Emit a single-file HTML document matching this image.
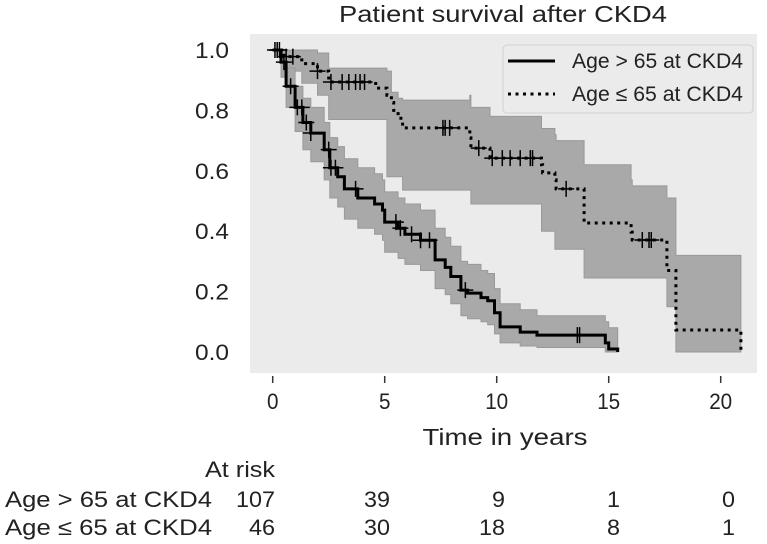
<!DOCTYPE html>
<html><head><meta charset="utf-8"><style>
html,body{margin:0;padding:0;background:#fff;}
svg{display:block;font-family:"Liberation Sans",Arial,sans-serif;}
</style></head><body>
<svg id="chart" width="767" height="544" viewBox="0 0 767 544" xmlns="http://www.w3.org/2000/svg">
<rect x="250" y="34" width="507" height="339" fill="#ebebeb"/>
<g id="bands"></g><g id="lines"></g><g id="marks"></g><g id="axes"></g>
<text x="503" y="22" font-size="23" text-anchor="middle" fill="#222" textLength="328" lengthAdjust="spacingAndGlyphs">Patient survival after CKD4</text>
<text x="505" y="445" font-size="23" text-anchor="middle" fill="#222" textLength="165" lengthAdjust="spacingAndGlyphs">Time in years</text>
<g>
<rect x="503" y="45" width="250" height="68" rx="4" fill="#ebebeb" stroke="#d0d0d0"/>
<line x1="508" y1="61" x2="555" y2="61" stroke="#000" stroke-width="3"/>
<line x1="508" y1="94" x2="555" y2="94" stroke="#000" stroke-width="3" stroke-dasharray="3 4.5"/>
<text x="572" y="68" font-size="21" fill="#222" textLength="171" lengthAdjust="spacingAndGlyphs">Age &gt; 65 at CKD4</text>
<text x="572" y="101" font-size="21" fill="#222" textLength="171" lengthAdjust="spacingAndGlyphs">Age ≤ 65 at CKD4</text>
</g>
<g id="risk">
<text x="275" y="477" font-size="22" text-anchor="end" fill="#222" textLength="70" lengthAdjust="spacingAndGlyphs">At risk</text>
<text x="5" y="507" font-size="22" fill="#222" textLength="207" lengthAdjust="spacingAndGlyphs">Age &gt; 65 at CKD4</text>
<text x="5" y="535" font-size="22" fill="#222" textLength="207" lengthAdjust="spacingAndGlyphs">Age ≤ 65 at CKD4</text>
</g>
</svg>
<script>
const xTicks=[0,5,10,15,20];
const yTicks=[0.0,0.2,0.4,0.6,0.8,1.0];
const oldTimes=[0,0.37,0.6,1.0,1.35,1.7,2.3,2.55,2.9,3.2,3.8,4.55,4.9,5.0,5.6,5.9,6.6,7.25,7.7,7.95,8.4,8.7,9.3,9.6,9.9,10.15,11.05,11.8,14.85,15.0,15.4];
const oldSurv=[1.0,0.96,0.88,0.81,0.76,0.725,0.67,0.61,0.58,0.54,0.51,0.49,0.47,0.43,0.41,0.39,0.37,0.305,0.28,0.25,0.205,0.195,0.18,0.17,0.13,0.083,0.066,0.056,0.03,0.01,0.0];
const oldUpper=[1.0,1.0,0.94,0.88,0.84,0.81,0.76,0.71,0.68,0.64,0.61,0.59,0.57,0.53,0.51,0.49,0.47,0.41,0.38,0.35,0.30,0.29,0.27,0.26,0.21,0.16,0.14,0.12,0.10,0.08,0.08];
const oldLower=[1.0,0.91,0.81,0.73,0.67,0.63,0.57,0.51,0.48,0.44,0.41,0.39,0.37,0.33,0.31,0.29,0.27,0.21,0.19,0.16,0.12,0.11,0.10,0.09,0.06,0.03,0.02,0.015,0.0,0.0,0.0];
const oldCensor=[0.1,0.3,0.5,0.8,1.1,1.3,1.5,1.7,2.5,2.6,2.8,3.7,5.5,5.7,6.2,6.6,7.0,8.6,13.6,13.7];
const youngTimes=[0,0.5,1.3,2.0,2.5,4.6,5.1,5.3,5.4,5.6,5.8,8.8,8.85,9.7,12.0,12.05,12.6,12.65,13.9,16.0,16.05,17.6,18.0,20.9];
const youngSurv=[1.0,0.978,0.955,0.93,0.894,0.874,0.85,0.826,0.80,0.774,0.742,0.709,0.675,0.642,0.62,0.593,0.57,0.54,0.427,0.397,0.371,0.27,0.073,0.0];
const youngUpper=[1.0,1.0,1.0,0.99,0.94,0.94,0.93,0.86,0.86,0.84,0.834,0.85,0.81,0.78,0.74,0.74,0.72,0.70,0.62,0.57,0.55,0.51,0.32,0.32];
const youngLower=[1.0,0.93,0.89,0.85,0.77,0.77,0.58,0.58,0.58,0.58,0.536,0.536,0.49,0.49,0.40,0.40,0.34,0.34,0.245,0.245,0.245,0.15,0.0,0.0];
const youngCensor=[0.2,0.6,0.9,2.0,2.6,3.1,3.4,3.7,3.9,4.1,7.6,7.7,7.9,9.2,9.8,10.25,10.6,11.05,11.5,11.6,13.1,16.5,16.8,16.9];
const riskTimes=[0,5,10,15,20];
const riskOld=[107,39,9,1,0];
const riskYoung=[46,30,18,8,1];

const NS='http://www.w3.org/2000/svg';
const xS=t=>272.7+22.4*t;
const yS=s=>352-302*s;
const riskX=t=>275+23*t;
function mk(tag,attrs,parent){const e=document.createElementNS(NS,tag);for(const k in attrs)e.setAttribute(k,attrs[k]);parent.appendChild(e);return e;}
const bands=document.getElementById('bands'),lines=document.getElementById('lines'),marks=document.getElementById('marks'),axes=document.getElementById('axes'),risk=document.getElementById('risk');

function stepPts(times,vals){let p=[];for(let i=0;i<times.length;i++){if(i>0)p.push([xS(times[i]),yS(vals[i-1])]);p.push([xS(times[i]),yS(vals[i])]);}return p;}
function drawBand(times,up,lo,name){
  const u=stepPts(times,up),l=stepPts(times,lo).reverse();
  const d='M'+u.concat(l).map(p=>p[0].toFixed(1)+','+p[1].toFixed(1)).join('L')+'Z';
  const e=mk('path',{d:d,fill:'#a9a9a9',stroke:'#999','stroke-width':1},bands);
  
  
}
function drawLine(times,vals,name,dash){
  const p=stepPts(times,vals);
  const e=mk('path',{d:'M'+p.map(q=>q[0].toFixed(1)+','+q[1].toFixed(1)).join('L'),fill:'none',stroke:'#000','stroke-width':3},lines);
  if(dash)e.setAttribute('stroke-dasharray',dash);
  
  
}
function survAt(times,vals,t){let v=vals[0];for(let i=0;i<times.length;i++){if(times[i]<=t)v=vals[i];}return v;}
function drawCensor(cs,times,vals,name){
  cs.forEach(t=>{const x=xS(t),y=yS(survAt(times,vals,t));
    const g=mk('path',{d:`M${x-8},${y}H${x+8}M${x},${y-8}V${y+8}`,stroke:'#000','stroke-width':1.5},marks);
    
    
  });
}
drawBand(youngTimes,youngUpper,youngLower,'ci-band-age-le-65');
drawBand(oldTimes,oldUpper,oldLower,'ci-band-age-gt-65');
drawLine(youngTimes,youngSurv,'survival-line-age-le-65','3 4.5');
drawLine(oldTimes,oldSurv,'survival-line-age-gt-65',null);
drawCensor(youngCensor,youngTimes,youngSurv,'censor-mark-age-le-65');
drawCensor(oldCensor,oldTimes,oldSurv,'censor-mark-age-gt-65');

xTicks.forEach(t=>{
  const l=mk('line',{x1:xS(t),x2:xS(t),y1:376,y2:383,stroke:'#333','stroke-width':1.5},axes);
  
  
  const s=String(t);
  const tx=mk('text',{x:xS(t),y:409,'font-size':22,'text-anchor':'middle',fill:'#222',textLength:11.5*s.length,lengthAdjust:'spacingAndGlyphs'},axes);
  tx.textContent=s;
  
  
});
yTicks.forEach(s=>{
  const tx=mk('text',{x:229,y:yS(s)+8,'font-size':22,'text-anchor':'end',fill:'#222',textLength:34,lengthAdjust:'spacingAndGlyphs'},axes);
  tx.textContent=s.toFixed(1);
  
  
});
riskTimes.forEach((t,i)=>{
  const sa=String(riskOld[i]),sb=String(riskYoung[i]);
  const a=mk('text',{x:riskX(t),y:507,'font-size':22,'text-anchor':'end',fill:'#222',textLength:13*sa.length,lengthAdjust:'spacingAndGlyphs'},risk);
  a.textContent=sa;
  
  
  const b=mk('text',{x:riskX(t),y:535,'font-size':22,'text-anchor':'end',fill:'#222',textLength:13*sb.length,lengthAdjust:'spacingAndGlyphs'},risk);
  b.textContent=sb;
  
  
});
</script>
</body></html>
